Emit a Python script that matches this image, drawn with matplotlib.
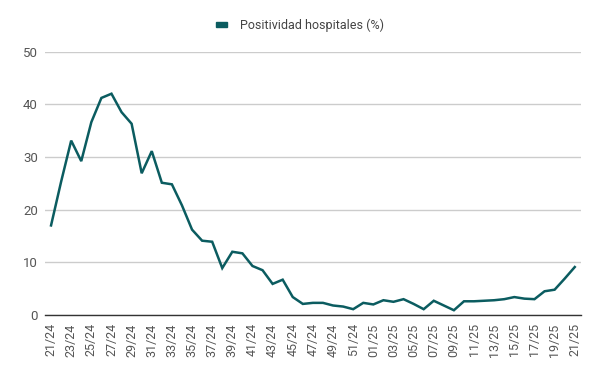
import matplotlib
matplotlib.use("Agg")
import matplotlib.pyplot as plt
from matplotlib.patches import Patch

plt.rcParams['font.family'] = ['Roboto', 'DejaVu Sans']

weeks = ([f"{w:02d}/24" for w in range(21, 53)] +
         [f"{w:02d}/25" for w in range(1, 22)])

positividad = [17.0, 25.3, 33.1, 29.2, 36.6, 41.2, 42.0, 38.5, 36.3, 26.9,
               31.1, 25.1, 24.8, 20.8, 16.2, 14.1, 13.9, 8.9, 12.0, 11.7,
               9.3, 8.5, 5.9, 6.7, 3.4, 2.1, 2.3, 2.3, 1.8, 1.6,
               1.1, 2.3, 2.0, 2.8, 2.5, 3.0, 2.1, 1.1, 2.7, 1.8,
               0.9, 2.6, 2.6, 2.7, 2.8, 3.0, 3.4, 3.1, 3.0, 4.5,
               4.8, 6.9, 9.1]

series_name = "Positividad hospitales (%)"
yticks = [0, 10, 20, 30, 40, 50]

color = "#0b5c60"

fig = plt.figure(figsize=(6, 3.71), dpi=100)
ax = fig.add_axes([0.075, 0.151, 0.893, 0.710])

x = list(range(len(weeks)))
ax.plot(x, positividad, color=color, linewidth=1.8, solid_joinstyle='miter')

ax.set_ylim(0, 50)
ax.set_xlim(-0.6, len(weeks) - 1 + 0.6)
ax.set_yticks(yticks)
ax.set_yticklabels([str(v) for v in yticks], color="#555555", fontsize=9.5)
ax.set_xticks(x[::2])
ax.set_xticklabels(weeks[::2], rotation=90, color="#555555", fontsize=9)
ax.tick_params(axis='both', length=0, pad=5)
ax.tick_params(axis='x', pad=6)

ax.grid(axis='y', color="#cccccc", linewidth=1)
ax.set_axisbelow(True)
for s in ['top', 'right', 'left']:
    ax.spines[s].set_visible(False)
ax.spines['bottom'].set_color("#333333")
ax.spines['bottom'].set_linewidth(1)
ax.spines['bottom'].set_zorder(3)

handle = Patch(facecolor=color, edgecolor=color)
fig.legend([handle], [series_name], loc='center', bbox_to_anchor=(0.5, 0.932),
           frameon=False, fontsize=9, handlelength=0.9, handleheight=0.35,
           labelcolor="#444444", handletextpad=1.0)

fig.savefig("out.png", dpi=100)
